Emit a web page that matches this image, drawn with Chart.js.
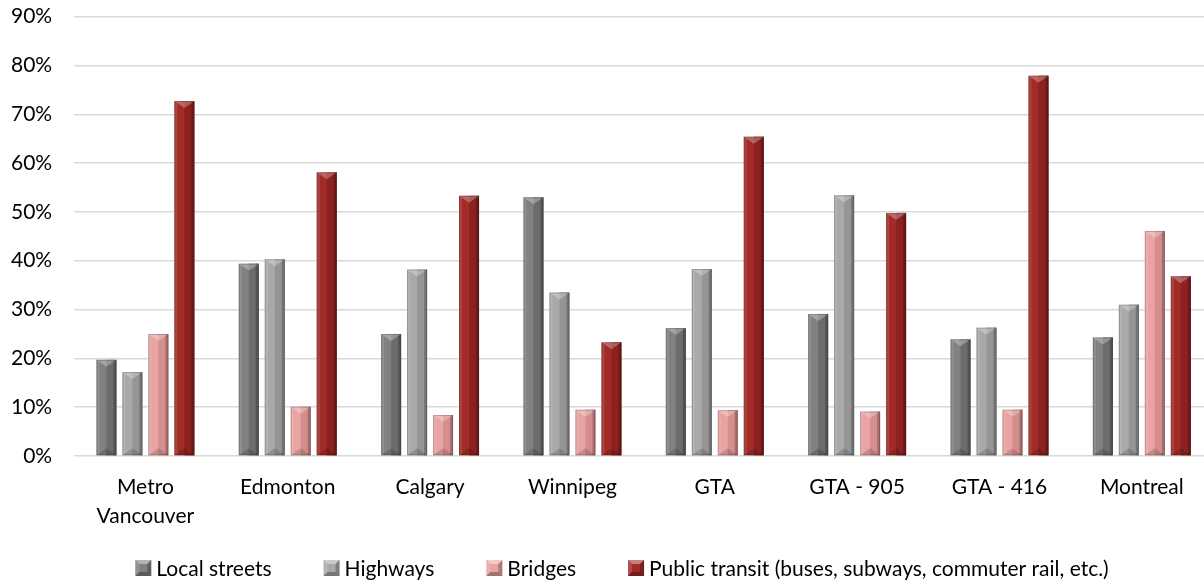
<!DOCTYPE html>
<html>
<head>
<meta charset="utf-8">
<title>Infrastructure priorities by region</title>
<script src="https://cdn.jsdelivr.net/npm/chart.js@4/dist/chart.umd.min.js"></script>
<style>
  html, body { margin: 0; padding: 0; background: #fff; overflow: hidden; }
  #wrap { position: absolute; left: 0; top: 0; width: 1216px; height: 581px; }
</style>
</head>
<body>
<div id="wrap"><canvas id="chart"></canvas></div>
<script>
const regions = [['Metro', 'Vancouver'], 'Edmonton', 'Calgary', 'Winnipeg', 'GTA', 'GTA - 905', 'GTA - 416', 'Montreal'];
const seriesNames = ['Local streets', 'Highways', 'Bridges', 'Public transit (buses, subways, commuter rail, etc.)'];
const localStreets = [19.7, 39.4, 25.0, 53.0, 26.2, 29.1, 23.9, 24.3];
const highways = [17.2, 40.3, 38.2, 33.5, 38.3, 53.4, 26.3, 31.0];
const bridges = [25.0, 10.1, 8.4, 9.5, 9.4, 9.1, 9.5, 46.1];
const publicTransit = [72.7, 58.1, 53.3, 23.3, 65.4, 49.8, 77.9, 36.8];
const yMax = 90;
const yStep = 10;

const FONT = 'Lato';
const FONT_SIZE = 21;

// base colour, darker half colour
const colors = [
    ['#818181', '#6c6c6c'],
    ['#a9a9a9', '#959595'],
    ['#e9a3a3', '#d58e8e'],
    ['#a22b27', '#8b221f']
];

function face(g, pts, fill) {
    g.fillStyle = fill;
    g.beginPath();
    g.moveTo(pts[0][0], pts[0][1]);
    pts.slice(1).forEach(p => g.lineTo(p[0], p[1]));
    g.closePath();
    g.fill();
}

// small beveled square used as the legend key
function drawSwatch(g, x, y, s, base) {
    const b = 4;
    g.save();
    g.translate(x, y);
    g.fillStyle = base;
    g.fillRect(0, 0, s, s);
    face(g, [[0, 0], [s, 0], [s - b, b], [b, b]], 'rgba(255,255,255,0.4)');
    face(g, [[0, 0], [b, b], [b, s - b], [0, s]], 'rgba(255,255,255,0.15)');
    face(g, [[s, 0], [s, s], [s - b, s - b], [s - b, b]], 'rgba(0,0,0,0.25)');
    face(g, [[0, s], [s, s], [s - b, s - b], [b, s - b]], 'rgba(0,0,0,0.3)');
    g.restore();
}

// draws the bevel shading on top of every bar
const bevelPlugin = {
    id: 'bevel',
    afterDatasetsDraw(chart) {
        const ctx = chart.ctx;
        chart.data.datasets.forEach((ds, di) => {
            const meta = chart.getDatasetMeta(di);
            meta.data.forEach(bar => {
                const w = bar.width;
                const left = bar.x - w / 2, right = bar.x + w / 2;
                const top = bar.y, bottom = bar.base;
                const h = bottom - top;
                const bev = Math.min(7, h / 2);
                ctx.save();
                ctx.fillStyle = colors[di][1];
                ctx.fillRect(bar.x, top, right - bar.x, h);
                ctx.fillStyle = 'rgba(255,255,255,0.12)';
                ctx.fillRect(left, top, 3, h);
                ctx.fillStyle = 'rgba(0,0,0,0.22)';
                ctx.fillRect(right - 3, top, 3, h);
                face(ctx, [[left, top], [right, top], [bar.x, top + bev]], 'rgba(255,255,255,0.28)');
                face(ctx, [[left, bottom], [right, bottom], [bar.x, bottom - bev]], 'rgba(0,0,0,0.15)');
                ctx.strokeStyle = 'rgba(0,0,0,0.2)';
                ctx.lineWidth = 1;
                ctx.strokeRect(left + 0.5, top + 0.5, w - 1, h - 1);
                ctx.restore();
            });
        });
    }
};

// legend row under the axis labels
const legendPlugin = {
    id: 'bevelLegend',
    afterDraw(chart) {
        const ctx = chart.ctx;
        const box = 16, textGap = 5, itemGap = 52;
        ctx.save();
        ctx.font = FONT_SIZE + 'px ' + FONT;
        ctx.textBaseline = 'middle';
        const widths = seriesNames.map(n => box + textGap + ctx.measureText(n).width);
        const total = widths.reduce((a, b) => a + b, 0) + itemGap * (widths.length - 1);
        let x = 622 - total / 2;
        const y = chart.height - 13;
        seriesNames.forEach((name, i) => {
            drawSwatch(ctx, x, y - box / 2, box, colors[i][0]);
            ctx.fillStyle = '#000';
            ctx.fillText(name, x + box + textGap, y + 1);
            x += widths[i] + itemGap;
        });
        ctx.restore();
    }
};

const values = [localStreets, highways, bridges, publicTransit];

new Chart(document.getElementById('chart'), {
    type: 'bar',
    data: {
        labels: regions,
        datasets: seriesNames.map((name, i) => ({
            label: name,
            data: values[i],
            backgroundColor: colors[i][0],
            borderWidth: 0,
            categoryPercentage: 0.73,
            barPercentage: 0.77
        }))
    },
    options: {
        responsive: true,
        maintainAspectRatio: false,
        animation: false,
        layout: { padding: { top: 0, left: 7, right: 3, bottom: 41 } },
        scales: {
            x: {
                grid: { display: false },
                border: { display: false },
                ticks: {
                    color: '#000',
                    font: { family: FONT, size: FONT_SIZE, lineHeight: 1.38 },
                    maxRotation: 0,
                    autoSkip: false,
                    padding: 9
                }
            },
            y: {
                min: 0,
                max: yMax,
                grid: { color: '#d9d9d9', lineWidth: 1.5, drawTicks: true, tickLength: 18, tickColor: 'rgba(0,0,0,0)' },
                border: { display: false },
                ticks: {
                    stepSize: yStep,
                    color: '#000',
                    padding: 4,
                    font: { family: FONT, size: FONT_SIZE },
                    callback: v => v + '%'
                }
            }
        },
        plugins: {
            tooltip: { enabled: false },
            legend: { display: false }
        }
    },
    plugins: [bevelPlugin, legendPlugin]
});
</script>
</body>
</html>
